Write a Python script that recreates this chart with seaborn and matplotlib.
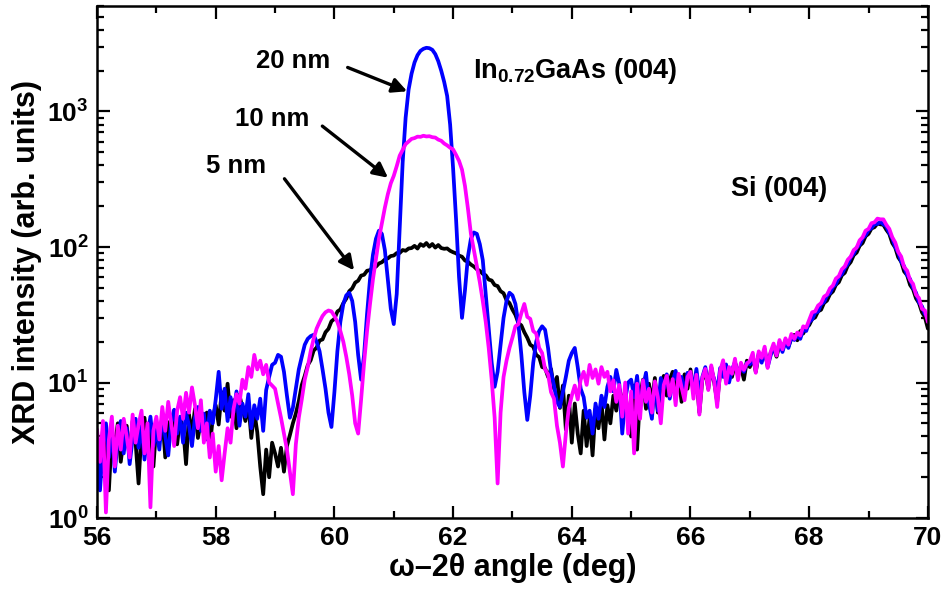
import numpy as np
import pandas as pd
import seaborn as sns
import matplotlib.pyplot as plt
from matplotlib.ticker import LogLocator, MultipleLocator, LogFormatterSciNotation

# --- data (step 0.05 deg, 56 -> 70) ---
angle = np.round(np.arange(56.0, 70.0001, 0.05), 2)

# 5 nm (black)
int_5nm = [
    3.8, 2.2, 4.5, 3.0, 1.6, 4.2, 3.4, 5.0, 2.6, 3.9, 4.8, 2.9, 5.2, 3.6, 1.8, 4.4, 5.5, 3.2, 4.6, 2.4,
    4.9, 3.8, 5.6, 2.8, 5.1, 4.4, 6.2, 3.5, 5.4, 4.7, 2.5, 5.8, 4.2, 6.4, 3.9, 5.2, 4.6, 6.0, 3.3, 5.5,
    6.8, 4.9, 8.5, 6.2, 9.8, 5.6, 7.4, 4.6, 8.1, 6.5, 5.2, 7.0, 3.9, 6.1, 4.3, 2.4, 1.5, 3.2, 2.0, 3.6,
    3.0, 2.4, 3.3, 2.2, 3.4, 4.1, 5.0, 5.9, 7.3, 9.6, 11.2, 13.4, 14.6, 17.2, 18.1, 20.4, 20.8, 23.5, 24.9, 28.3,
    29.5, 33.4, 34.6, 38.5, 41.6, 47.2, 49.5, 54.6, 56.4, 61.5, 62.4, 66.8, 67.5, 70.8, 71.6, 75.6, 77.2, 80.9, 82.4, 85.8,
    86.5, 90.2, 90.4, 95.0, 93.8, 97.5, 98.2, 102.0, 97.4, 105.0, 101.8, 107.0, 100.5, 105.2, 99.0, 103.4, 98.2, 97.0, 97.6, 93.8,
    91.5, 89.8, 86.4, 84.8, 79.5, 77.8, 74.2, 71.8, 68.5, 66.7, 63.4, 61.8, 57.5, 56.6, 52.4, 51.5, 47.2, 45.6, 40.5, 38.6,
    34.5, 31.6, 27.5, 26.4, 23.5, 21.4, 19.0, 18.4, 16.0, 15.4, 13.0, 12.8, 11.0, 12.6, 9.0, 11.0, 6.5, 9.5, 4.5, 8.0,
    3.6, 7.0, 4.2, 3.0, 6.2, 3.4, 5.5, 2.9, 6.4, 4.6, 7.2, 3.8, 6.8, 5.0, 8.0, 6.2, 9.0, 7.5, 8.2, 5.8,
    4.0, 9.5, 3.2, 8.0, 10.5, 6.4, 9.8, 7.2, 10.8, 6.0, 9.5, 11.2, 8.0, 10.5, 12.0, 8.6, 10.8, 7.2, 11.5, 9.0,
    12.5, 8.5, 11.0, 6.0, 10.5, 12.0, 9.0, 13.0, 10.0, 7.2, 11.8, 13.5, 10.5, 12.5, 11.0, 14.0, 12.0, 13.0, 10.5, 14.5,
    13.0, 15.5, 12.0, 16.0, 14.5, 17.0, 13.5, 16.5, 18.0, 15.5, 19.0, 17.5, 20.5, 18.5, 21.0, 22.5, 20.5, 24.0, 23.0, 25.5,
    26.5, 29.4, 30.2, 33.5, 34.4, 38.6, 40.2, 44.8, 47.0, 52.6, 55.0, 61.8, 64.5, 72.8, 77.5, 87.0, 91.0, 102.0, 107.0, 120.0,
    125.0, 137.0, 140.0, 149.0, 147.0, 146.0, 134.0, 125.0, 107.0, 99.0, 84.0, 78.0, 66.0, 62.0, 52.5, 48.8, 41.8, 38.6, 33.0, 30.4,
    25.0,
]

# 20 nm (blue)
int_20nm = [
    4.2, 1.6, 3.5, 5.0, 2.8, 4.4, 2.2, 3.8, 5.2, 3.0, 4.6, 2.5, 3.9, 5.4, 3.3, 4.8, 2.7, 4.1, 5.6, 3.4,
    4.5, 3.2, 5.8, 4.0, 2.9, 5.1, 6.3, 4.2, 5.6, 3.6, 6.0, 4.8, 3.4, 5.5, 6.6, 4.4, 5.9, 3.8, 6.2, 5.0,
    7.5, 12.0, 6.4, 9.0, 5.2, 7.8, 6.0, 8.6, 4.8, 7.0, 5.6, 8.2, 4.6, 6.8, 5.4, 7.6, 4.4, 8.8, 11.0, 13.5,
    14.0, 16.0, 15.5, 12.0, 8.0, 5.5, 6.5, 9.0, 12.5, 15.5, 19.0, 21.0, 22.0, 22.5, 20.0, 17.0, 12.5, 9.0, 6.0, 4.7,
    8.5, 17.0, 28.0, 38.0, 44.0, 46.0, 40.0, 28.0, 16.0, 10.5, 16.0, 32.0, 58.0, 88.0, 115.0, 132.0, 125.0, 95.0, 58.0, 35.0,
    27.0, 45.0, 140.0, 420.0, 900.0, 1450.0, 1900.0, 2300.0, 2600.0, 2800.0, 2900.0, 2950.0, 2930.0, 2850.0, 2650.0, 2350.0, 2000.0, 1650.0, 1300.0, 800.0,
    380.0, 160.0, 60.0, 30.0, 48.0, 85.0, 115.0, 128.0, 125.0, 105.0, 80.0, 45.0, 25.0, 14.0, 9.3, 12.0, 19.0, 30.0, 40.0, 46.0,
    44.0, 38.0, 27.0, 16.0, 8.5, 5.3, 8.0, 14.0, 20.0, 24.0, 26.0, 24.5, 18.0, 12.0, 9.5, 7.2, 6.6, 8.5, 11.0, 14.5,
    16.5, 18.0, 13.0, 9.0, 7.8, 5.5, 6.2, 4.2, 7.0, 5.4, 8.0, 6.6, 9.3, 11.0, 8.6, 12.4, 9.8, 4.2, 7.5, 10.0,
    10.5, 7.8, 11.2, 6.5, 9.2, 11.8, 7.0, 5.4, 10.0, 6.2, 10.8, 9.0, 11.5, 7.6, 10.2, 12.2, 9.4, 11.0, 8.2, 11.8,
    11.5, 9.0, 12.6, 8.2, 11.0, 13.0, 9.6, 12.2, 10.6, 8.4, 12.8, 11.0, 13.6, 10.0, 12.4, 14.2, 11.2, 13.4, 12.0, 14.0,
    13.6, 15.0, 12.4, 16.4, 14.0, 17.6, 13.0, 15.8, 18.6, 16.0, 19.8, 16.8, 20.0, 18.0, 21.6, 20.6, 22.4, 21.0, 24.6, 24.0,
    28.0, 29.2, 32.6, 33.4, 37.8, 39.2, 43.8, 45.6, 50.8, 53.2, 59.8, 63.0, 70.0, 75.0, 84.0, 89.0, 99.0, 104.0, 116.0, 122.0,
    133.0, 138.0, 147.0, 148.0, 153.0, 147.0, 142.0, 127.0, 116.0, 100.0, 91.0, 78.0, 72.0, 62.0, 58.0, 50.0, 46.0, 39.0, 36.5, 32.0,
    30.0,
]

# 10 nm (magenta)
int_10nm = [
    4.5, 2.6, 5.2, 1.1, 3.8, 5.6, 2.4, 4.8, 3.2, 5.4, 4.0, 2.8, 5.8, 3.6, 4.9, 6.2, 3.0, 5.0, 1.2, 4.4,
    5.6, 3.8, 6.6, 4.4, 7.2, 5.0, 3.4, 6.2, 7.8, 5.4, 8.4, 6.0, 9.2, 6.8, 4.6, 7.4, 3.6, 5.0, 2.8, 4.2,
    2.2, 3.4, 1.9, 3.0, 4.6, 3.6, 6.4, 8.2, 7.0, 10.5, 9.0, 13.0, 11.0, 16.0, 12.5, 14.5, 11.5, 13.5, 10.0, 9.5,
    9.0, 7.0, 5.5, 4.2, 3.2, 2.2, 1.5, 3.5, 5.5, 7.5, 10.5, 13.0, 17.0, 21.0, 25.0, 28.0, 31.0, 33.0, 34.0, 33.5,
    31.0, 28.0, 24.0, 20.0, 15.5, 11.5, 8.0, 5.0, 4.2, 7.5, 14.0, 24.0, 38.0, 58.0, 82.0, 115.0, 150.0, 195.0, 245.0, 295.0,
    335.0, 395.0, 472.0, 520.0, 574.0, 600.0, 628.0, 636.0, 652.0, 650.0, 662.0, 654.0, 657.0, 646.0, 642.0, 620.0, 608.0, 580.0, 562.0, 540.0,
    525.0, 478.0, 432.0, 372.0, 282.0, 192.0, 125.0, 95.0, 72.0, 55.0, 40.0, 28.0, 18.0, 10.5, 5.5, 1.8, 6.0, 11.0, 14.5, 18.0,
    21.5, 26.0, 27.0, 32.5, 38.0, 30.5, 29.5, 24.0, 23.0, 18.0, 16.5, 12.5, 11.5, 8.5, 7.6, 4.8, 3.6, 2.4, 4.2, 6.5,
    8.0, 9.5, 7.5, 10.5, 12.0, 9.6, 13.5, 10.8, 12.5, 9.8, 13.0, 11.0, 12.0, 8.6, 10.4, 7.2, 9.6, 5.6, 10.0, 4.2,
    8.6, 3.0, 9.8, 5.4, 10.4, 7.2, 9.0, 6.0, 10.2, 7.8, 5.0, 9.6, 11.2, 8.0, 10.6, 6.8, 11.6, 9.2, 7.4, 11.0,
    12.0, 7.6, 11.4, 5.8, 10.8, 12.6, 8.8, 13.4, 10.2, 6.6, 12.2, 14.6, 9.8, 13.0, 11.6, 15.0, 10.4, 14.0, 12.4, 13.8,
    14.4, 16.6, 11.8, 17.0, 15.2, 18.4, 12.8, 16.8, 19.4, 15.8, 20.6, 17.6, 21.2, 19.0, 22.8, 21.0, 23.4, 22.2, 26.0, 25.4,
    29.0, 33.0, 33.5, 37.0, 38.5, 43.0, 44.5, 49.5, 52.0, 58.5, 61.0, 68.5, 72.0, 80.5, 85.0, 95.0, 99.0, 112.0, 118.0, 132.0,
    136.0, 150.0, 152.0, 162.0, 160.0, 160.0, 146.0, 136.0, 118.0, 108.0, 92.0, 85.0, 71.0, 67.0, 57.0, 53.5, 44.5, 42.0, 35.0, 34.0,
    28.0,
]

samples = ['5 nm', '20 nm', '10 nm']
colors = {'5 nm': '#000000', '20 nm': '#0000FF', '10 nm': '#FF00FF'}

df = pd.concat([
    pd.DataFrame({'angle': angle, 'intensity': int_5nm, 'sample': '5 nm'}),
    pd.DataFrame({'angle': angle, 'intensity': int_20nm, 'sample': '20 nm'}),
    pd.DataFrame({'angle': angle, 'intensity': int_10nm, 'sample': '10 nm'}),
], ignore_index=True)

# --- style ---
sns.set_style('ticks')
plt.rcParams['font.family'] = ['Liberation Sans', 'DejaVu Sans']
plt.rcParams['font.weight'] = 'bold'
plt.rcParams['text.color'] = 'black'
plt.rcParams['axes.labelcolor'] = 'black'
plt.rcParams['axes.edgecolor'] = 'black'
plt.rcParams['xtick.color'] = 'black'
plt.rcParams['ytick.color'] = 'black'
plt.rcParams['mathtext.fontset'] = 'custom'
plt.rcParams['mathtext.rm'] = 'Liberation Sans:bold'
plt.rcParams['mathtext.bf'] = 'Liberation Sans:bold'
plt.rcParams['mathtext.it'] = 'Liberation Sans:bold:italic'
plt.rcParams['mathtext.default'] = 'rm'

fig = plt.figure(figsize=(9.42, 6.01), dpi=100)
ax = fig.add_axes([0.103, 0.138, 0.882, 0.852])

sns.lineplot(data=df, x='angle', y='intensity', hue='sample', hue_order=samples,
             palette=colors, linewidth=2.7, estimator=None, sort=False,
             legend=False, ax=ax)

ax.set_yscale('log')
ax.set_xlim(56, 70)
ax.set_ylim(1, 6000)

ax.xaxis.set_major_locator(MultipleLocator(2))
ax.xaxis.set_minor_locator(MultipleLocator(1))
ax.yaxis.set_major_locator(LogLocator(base=10, numticks=10))
ax.yaxis.set_minor_locator(LogLocator(base=10, subs=np.arange(2, 10), numticks=20))
ax.yaxis.set_major_formatter(LogFormatterSciNotation())

ax.tick_params(which='both', direction='in', top=True, right=True, width=1.6, color='black')
ax.tick_params(which='major', length=9, labelsize=19, pad=6, labelcolor='black')
ax.tick_params(which='minor', length=5)
for lab in ax.get_xticklabels() + ax.get_yticklabels():
    lab.set_fontweight('bold')
for sp in ax.spines.values():
    sp.set_linewidth(1.8)
    sp.set_color('black')

ax.set_xlabel('ω–2θ angle (deg)', fontsize=22, fontweight='bold', labelpad=2, color='black')
ax.set_ylabel('XRD intensity (arb. units)', fontsize=22, fontweight='bold', labelpad=4, color='black')

# --- annotations ---
arrow = dict(arrowstyle='-|>', color='black', lw=2.4, mutation_scale=22)
ax.text(59.3, 2350, '20 nm', fontsize=18.5, fontweight='bold', ha='center', va='center', color='black')
ax.annotate('', xy=(61.27, 1384), xytext=(60.18, 2150), arrowprops=arrow)
ax.text(58.95, 873, '10 nm', fontsize=18.5, fontweight='bold', ha='center', va='center', color='black')
ax.annotate('', xy=(60.94, 315), xytext=(59.76, 803), arrowprops=arrow)
ax.text(58.35, 393, '5 nm', fontsize=18.5, fontweight='bold', ha='center', va='center', color='black')
ax.annotate('', xy=(60.36, 64.7), xytext=(59.13, 331), arrowprops=arrow)

ax.text(62.33, 1978, r'In$_{0.72}$GaAs (004)', fontsize=19.5, fontweight='bold',
        ha='left', va='center', color='black')
ax.text(67.5, 266, 'Si (004)', fontsize=19.5, fontweight='bold', ha='center', va='center', color='black')

fig.savefig('out.png', dpi=100)
